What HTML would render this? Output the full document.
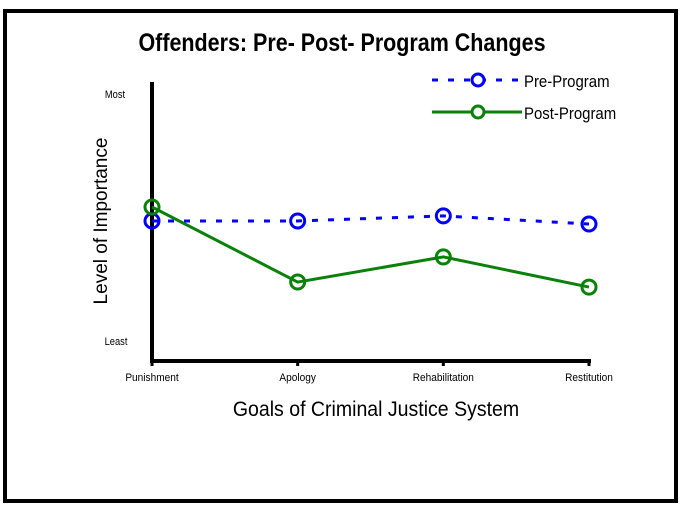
<!DOCTYPE html>
<html><head><meta charset="utf-8"><style>
html,body{margin:0;padding:0;background:#fff;}
svg{display:block;font-family:"Liberation Sans",sans-serif;}
</style></head><body>
<svg width="680" height="510" viewBox="0 0 680 510">
<rect x="5" y="11" width="671" height="490" fill="none" stroke="#000" stroke-width="4"/>
<text x="342" y="51" text-anchor="middle" font-size="25" font-weight="bold" transform="translate(342,0) scale(0.86,1) translate(-342,0)">Offenders: Pre- Post- Program Changes</text>
<g>
<g>
<line x1="432" y1="80" x2="522" y2="80" stroke="#0000ff" stroke-width="3" stroke-dasharray="6,10"/>
<circle cx="478" cy="80" r="6" fill="#fff" stroke="#0000ff" stroke-width="3"/>
<text x="524" y="87" font-size="17" transform="translate(524,0) scale(0.88,1) translate(-524,0)">Pre-Program</text>
</g>
<g>
<line x1="432" y1="112" x2="522" y2="112" stroke="#0a820a" stroke-width="3"/>
<circle cx="478" cy="112" r="6" fill="#fff" stroke="#0a820a" stroke-width="3"/>
<text x="524" y="119" font-size="17" transform="translate(524,0) scale(0.88,1) translate(-524,0)">Post-Program</text>
</g>
</g>
<text x="115" y="98" text-anchor="middle" font-size="11" transform="translate(115,0) scale(0.85,1) translate(-115,0)">Most</text>
<text x="116" y="345" text-anchor="middle" font-size="11" transform="translate(116,0) scale(0.85,1) translate(-116,0)">Least</text>
<text x="0" y="0" text-anchor="middle" font-size="19" transform="translate(107,221) rotate(-90)">Level of Importance</text>
<text x="376" y="416" text-anchor="middle" font-size="21" transform="translate(376,0) scale(0.93,1) translate(-376,0)">Goals of Criminal Justice System</text>
<g id="axes"></g>
<g id="plot"></g>
<g id="xlabels"></g>
</svg>
<script>
const categories = ["Punishment","Apology","Rehabilitation","Restitution"];
const preValues = [50.2, 50.2, 52.0, 49.1];
const postValues = [55.2, 28.3, 37.3, 26.5];
const NS="http://www.w3.org/2000/svg";
const x0=152,x1=589,yB=361,yT=82;
function xs(i){return x0+(x1-x0)*i/(categories.length-1);}
function ys(v){return yB-(yB-yT)*v/100;}
function mk(t,a,p){const e=document.createElementNS(NS,t);for(const k in a)e.setAttribute(k,a[k]);p.appendChild(e);return e;}
const axes=document.getElementById('axes'),plot=document.getElementById('plot'),xl=document.getElementById('xlabels');
const ya=mk('line',{x1:x0,y1:yT,x2:x0,y2:yB+2,stroke:'#000','stroke-width':4},axes);


const xa=mk('line',{x1:x0-2,y1:yB,x2:x1+2,y2:yB,stroke:'#000','stroke-width':4},axes);


categories.forEach((c,i)=>{
  const tk=mk('line',{x1:xs(i),y1:yB,x2:xs(i),y2:yB+5,stroke:'#000','stroke-width':3},axes);
  
  
  const t=mk('text',{x:xs(i),y:381,'text-anchor':'middle','font-size':11,transform:`translate(${xs(i)},0) scale(0.92,1) translate(${-xs(i)},0)`},xl);
  t.textContent=c;
  
  
});
function series(vals,color,dash,name){
  const pts=vals.map((v,i)=>xs(i)+','+ys(v)).join(' ');
  const a={points:pts,fill:'none',stroke:color,'stroke-width':3};
  if(dash)a['stroke-dasharray']=dash;
  const pl=mk('polyline',a,plot);
  
  
  vals.forEach((v,i)=>{
    const c=mk('circle',{cx:xs(i),cy:ys(v),r:7,fill:'none',stroke:color,'stroke-width':3},plot);
    
    
  });
}
series(preValues,'#0000ff','6,10','pre-program');
series(postValues,'#0a820a',null,'post-program');
</script>
</body></html>
